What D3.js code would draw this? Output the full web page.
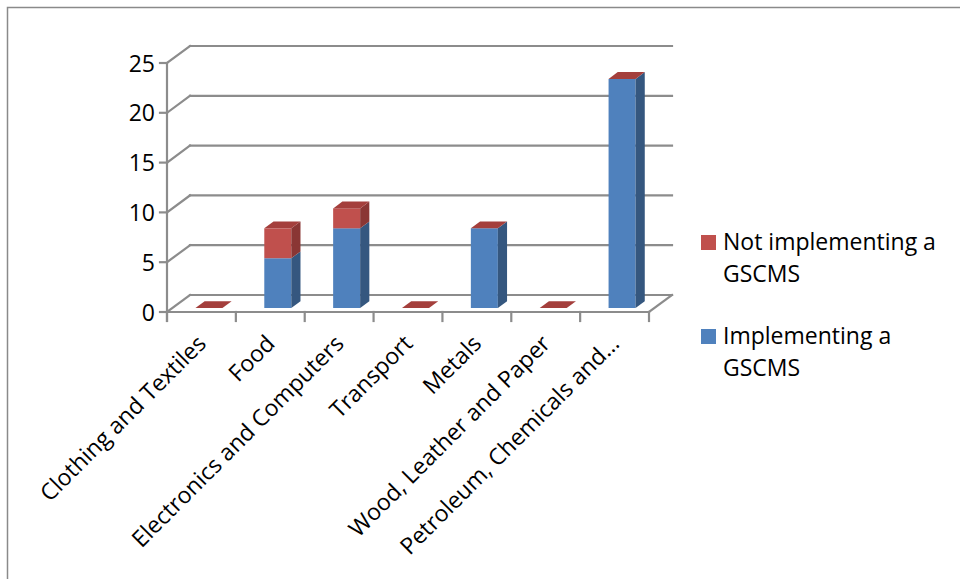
<!DOCTYPE html>
<html>
<head>
<meta charset="utf-8">
<script src="https://cdn.jsdelivr.net/npm/d3@7"></script>
<style>
  html, body { margin: 0; padding: 0; background: #fff; }
  svg { display: block; }
  text { font-family: "Open Sans", "Noto Sans", sans-serif; fill: #000; }
</style>
</head>
<body>
<svg id="chart" width="960" height="579"></svg>
<script>
const categories = ["Clothing and Textiles", "Food", "Electronics and Computers", "Transport", "Metals", "Wood, Leather and Paper", "Petroleum, Chemicals and…"];
const implementing = [0, 5, 8, 0, 8, 0, 23];
const notImplementing = [0, 3, 2, 0, 0, 0, 0];
const seriesNames = ["Not implementing a GSCMS", "Implementing a GSCMS"];
const yTicks = [0, 5, 10, 15, 20, 25];

const svg = d3.select("#chart");

// frame
svg.append("rect").attr("x", 7.5).attr("y", 7.5).attr("width", 1000).attr("height", 1000)
  .attr("fill", "none").attr("stroke", "#8a8a8a").attr("stroke-width", 1.5);

const X0 = 167, X1 = 649, Y0 = 312, YTOP = 63;
const DX = 23, DY = -17;           // depth of the 3D box
const BX0 = 7.5, BY0 = -4;         // bar front face offset
const BDX = 9.2, BDY = -6.8;       // bar depth
const barW = 27;

const x = d3.scaleBand().domain(categories).range([X0, X1]).paddingInner(0).paddingOuter(0);
const y = d3.scaleLinear().domain([0, 25]).range([Y0, YTOP]);

const grid = svg.append("g").attr("stroke", "#8c8c8c").attr("stroke-width", 2.2).attr("fill", "none")
  .attr("stroke-linecap", "square");

// back gridlines + left wall diagonals
yTicks.forEach(t => {
  const yy = y(t);
  grid.append("line").attr("x1", X0 + DX).attr("y1", yy + DY).attr("x2", X1 + DX).attr("y2", yy + DY);
  grid.append("line").attr("x1", X0).attr("y1", yy).attr("x2", X0 + DX).attr("y2", yy + DY);
  grid.append("line").attr("x1", X0 - 7).attr("y1", yy).attr("x2", X0).attr("y2", yy);
});
// floor front edge & right edge
grid.append("line").attr("x1", X0).attr("y1", Y0).attr("x2", X1).attr("y2", Y0);
grid.append("line").attr("x1", X1).attr("y1", Y0).attr("x2", X1 + DX).attr("y2", Y0 + DY);
// vertical axis
grid.append("line").attr("x1", X0).attr("y1", YTOP).attr("x2", X0).attr("y2", Y0 + 9);
// category ticks
d3.range(categories.length + 1).forEach(i => {
  const xx = X0 + i * x.step();
  grid.append("line").attr("x1", xx).attr("y1", Y0).attr("x2", xx).attr("y2", Y0 + 9);
});

// y labels
svg.append("g").selectAll("text").data(yTicks).join("text")
  .attr("x", 155).attr("y", d => y(d) + 8.5).attr("text-anchor", "end")
  .attr("font-size", 23).text(d => d);

// bars
const colors = {
  blue: { front: "#4f81bd", side: "#35577f", top: "#6d95c8" },
  red: { front: "#c0504d", side: "#8a3634", top: "#a43f3c" }
};
const bars = svg.append("g");
function poly(pts, fill) {
  bars.append("polygon").attr("points", pts.map(p => p.join(",")).join(" ")).attr("fill", fill);
}
categories.forEach((c, i) => {
  const cx = x(c) + x.bandwidth() / 2 + BX0;
  const l = cx - barW / 2, r = cx + barW / 2;
  const segs = [
    { v0: 0, v1: implementing[i], col: colors.blue },
    { v0: implementing[i], v1: implementing[i] + notImplementing[i], col: colors.red }
  ];
  segs.forEach(s => {
    if (s.v1 > s.v0) {
      const yb = y(s.v0) + BY0, yt = y(s.v1) + BY0;
      poly([[l, yb], [r, yb], [r, yt], [l, yt]], s.col.front);
      poly([[r, yb], [r + BDX, yb + BDY], [r + BDX, yt + BDY], [r, yt]], s.col.side);
    }
  });
  const total = implementing[i] + notImplementing[i];
  const yt = y(total) + BY0;
  poly([[l, yt], [r, yt], [r + BDX, yt + BDY], [l + BDX, yt + BDY]], colors.red.top);
});

// category labels
svg.append("g").selectAll("text").data(categories).join("text")
  .attr("text-anchor", "end").attr("font-size", 23)
  .attr("transform", d => `translate(${x(d) + x.bandwidth() / 2 + 6},${Y0 + 33}) rotate(-45)`)
  .text(d => d);

// legend
const legend = svg.append("g");
const legendItems = [
  { lines: ["Not implementing a", "GSCMS"], color: colors.red.front, y: 235 },
  { lines: ["Implementing a", "GSCMS"], color: colors.blue.front, y: 329 }
];
legendItems.forEach(it => {
  legend.append("rect").attr("x", 701).attr("y", it.y).attr("width", 15).attr("height", 15).attr("fill", it.color);
  it.lines.forEach((ln, k) => {
    legend.append("text").attr("x", 723).attr("y", it.y + 15 + k * 32).attr("font-size", 23).text(ln);
  });
});
</script>
</body>
</html>
